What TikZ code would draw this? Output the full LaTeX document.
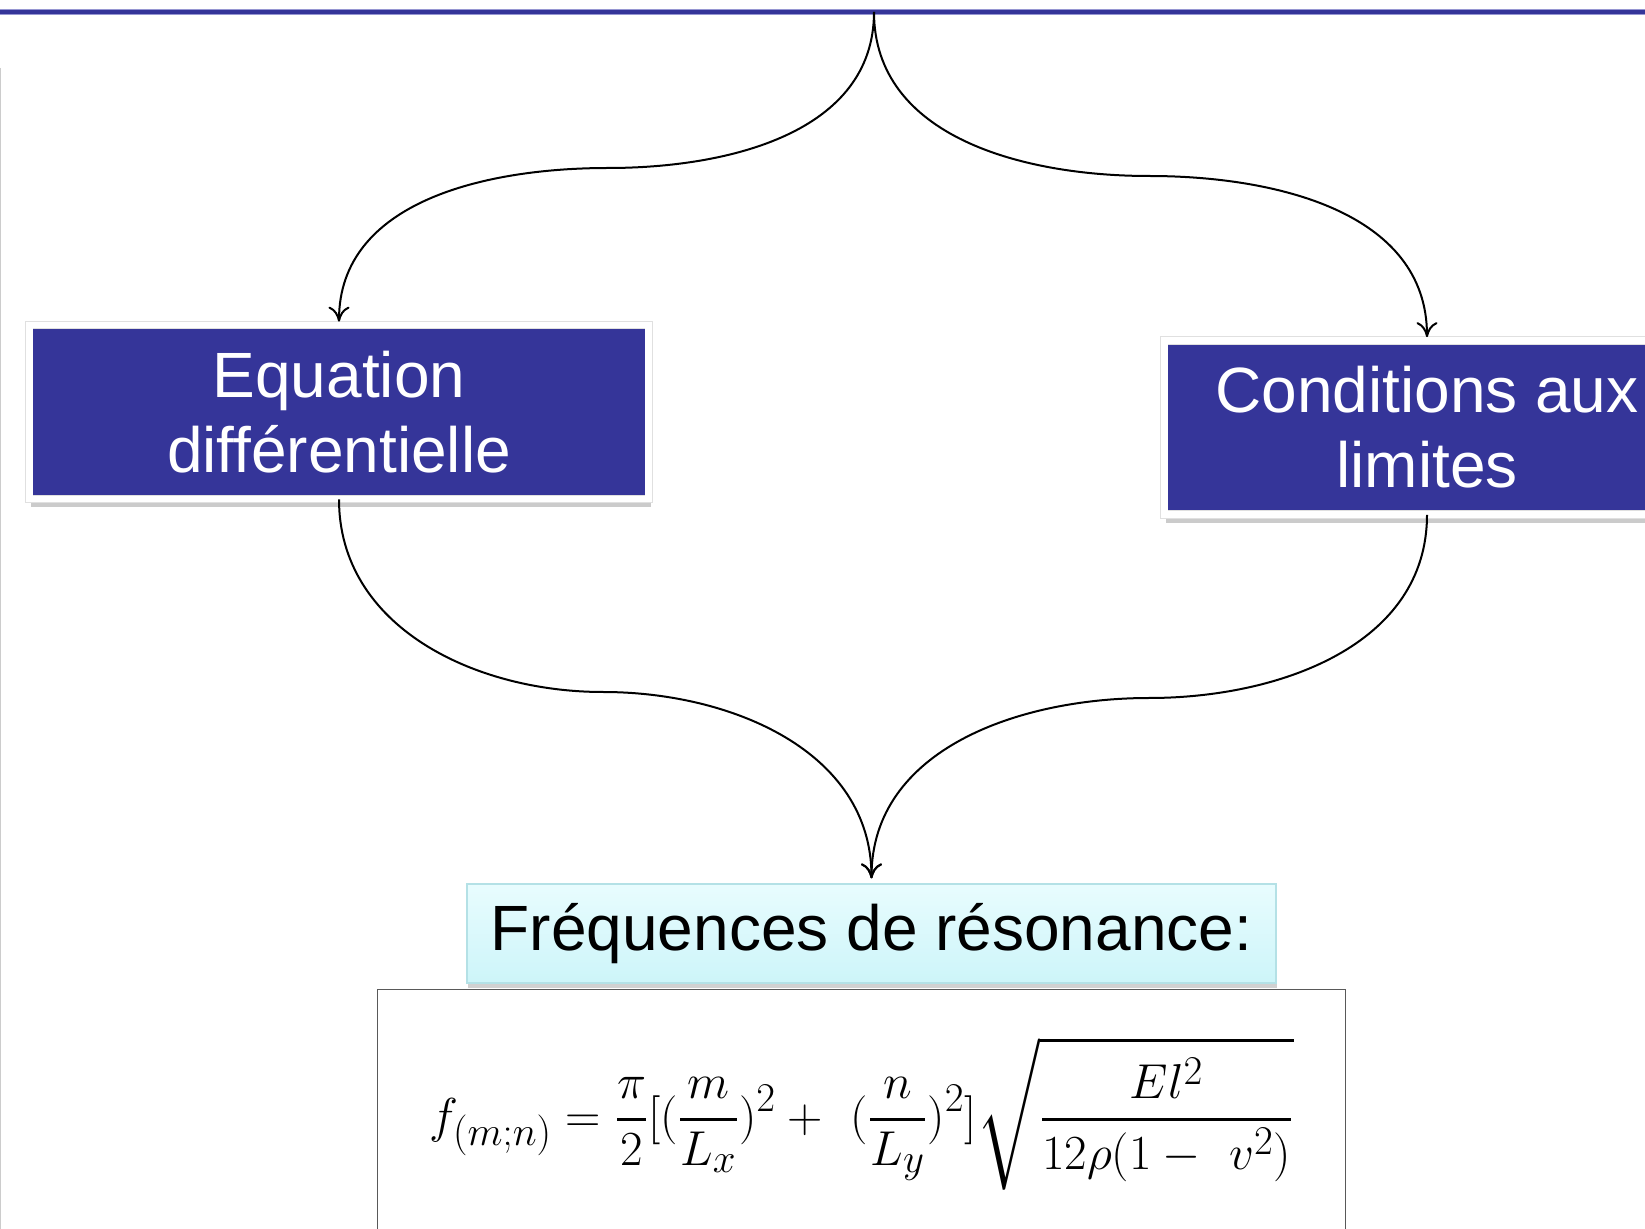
\documentclass[tikz,border=0pt]{standalone}
\usepackage[no-math]{fontspec}
\setmainfont{Liberation Sans}
\usepackage{amsmath,amssymb}
\usepackage{graphicx}
\usepackage{xcolor}
\usepackage{tikz}
\usetikzlibrary{arrows.meta, positioning, calc, shadows}

\definecolor{slideblue}{RGB}{53,53,153}
\definecolor{ruleedge}{RGB}{150,150,210}
\definecolor{freqtop}{RGB}{232,252,254}
\definecolor{freqbot}{RGB}{205,245,249}
\definecolor{freqedge}{RGB}{180,225,230}

\begin{document}
\begin{tikzpicture}[x=0.5pt, y=-0.5pt, font=\fontsize{32}{37.5}\selectfont]
\tikzstyle{concept} = [rectangle, draw=black!12, double=white, double distance=3.4pt, line width=0.35pt, fill=slideblue, text=white, align=center, inner sep=0pt, minimum height=87pt, drop shadow={shadow xshift=1pt, shadow yshift=-4.2pt, fill=black!45, opacity=0.45}]
\tikzstyle{result} = [rectangle, draw=freqedge, top color=freqtop, bottom color=freqbot, line width=0.6pt, minimum width=404.5pt, minimum height=49.5pt, inner sep=0pt, drop shadow={shadow xshift=0.6pt, shadow yshift=-2.4pt, fill=black!45, opacity=0.4}]
\tikzstyle{formbox} = [rectangle, draw=black!65, fill=white, line width=0.8pt, minimum width=484pt, minimum height=124pt, inner sep=0pt]
\tikzstyle{line} = [draw, -{To[length=7.5pt,width=10.5pt]}, line width=1pt, black]

\clip (0,0) rectangle (1645,1229);
\fill[white] (0,0) rectangle (1645,1229);
% slide frame
\draw[ruleedge, line width=3pt] (0,12) -- (1645,12);
\draw[slideblue, line width=2pt] (0,12) -- (1645,12);
\draw[black!20, line width=0.6pt] (0.5,68) -- (0.5,1229);

\coordinate (apex) at (874,12);
\coordinate (ltop) at (608,168);
\coordinate (rtop) at (1149,176);
\coordinate (lbot) at (603,692);
\coordinate (rbot) at (1149,698);

\node (eqdiff) [concept, minimum width=309.75pt] at (339,412) {Equation\\différentielle};
\node (condlim) [concept, minimum width=262.75pt] at (1427,427.5) {Conditions aux\\limites};
\node (freq) [result] at (871.5,933.5) {Fréquences de résonance:};
\node (formula) [formbox, below=2.5pt of freq, xshift=-5pt] {\resizebox{432pt}{!}{$\displaystyle f_{(m;n)} = \frac{\pi}{2}[(\frac{m}{L_x})^2 + \ (\frac{n}{L_y})^2]\sqrt{\frac{El^2}{12\rho(1-\ v^2)}}$}};

\draw [line] (apex) to[out=-90,in=0] (ltop) to[out=180,in=90] ([yshift=1.5pt]eqdiff.north);
\draw [line] (apex) to[out=-90,in=180] (rtop) to[out=0,in=90] ([yshift=1.5pt]condlim.north);
\draw [line] (eqdiff.south) to[out=-90,in=180] (lbot) to[out=0,in=90] ([yshift=2.5pt]freq.north);
\draw [line] (condlim.south) to[out=-90,in=0] (rbot) to[out=180,in=90] ([yshift=2.5pt]freq.north);
\end{tikzpicture}
\end{document}
